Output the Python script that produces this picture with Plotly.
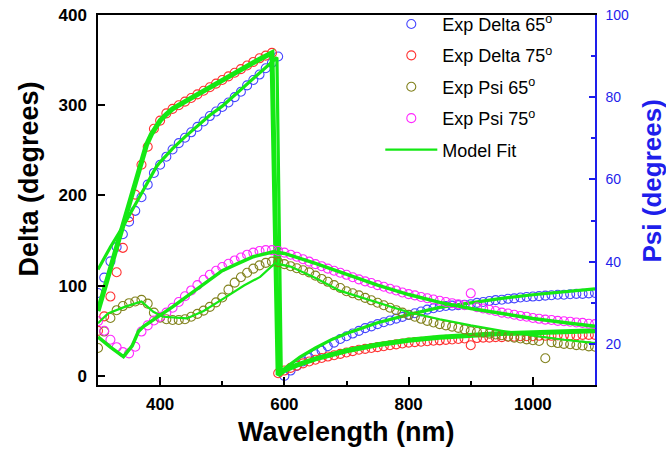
import plotly.graph_objects as go

# ---------------- data ----------------
wavelength = [300, 310, 320, 330, 340, 350, 360, 370, 380, 390,
              400, 410, 420, 430, 440, 450, 460, 470, 480, 490,
              500, 510, 520, 530, 540, 550, 560, 570, 580, 590,
              600, 610, 620, 630, 640, 650, 660, 670, 680, 690,
              700, 710, 720, 730, 740, 750, 760, 770, 780, 790,
              800, 810, 820, 830, 840, 850, 860, 870, 880, 890,
              900, 910, 920, 930, 940, 950, 960, 970, 980, 990,
              1000, 1010, 1020, 1030, 1040, 1050, 1060, 1070, 1080, 1090, 1100]

delta_65 = [92, 109, 127, 143, 157, 171, 183, 198, 212, 225,
            234, 243, 251, 258, 264, 270, 276, 282, 288, 293,
            298, 303, 309, 315, 322, 328, 334, 341, 347, 354,
            0, 6, 11, 16, 20, 24, 28, 33, 37, 41,
            44, 47, 50, 53, 55, 57.5, 59.5, 61.5, 63.5, 65.5,
            67.5, 69.5, 71.5, 73.5, 75, 76.5, 77.5, 78, 78.5, 79,
            79.5, 81, 82, 83, 84, 84.5, 85.5, 86, 87, 87.5,
            88, 88.5, 89, 89.5, 90, 90, 90.5, 91, 91, 91.5, 92]

delta_75 = [50, 66, 88, 115, 142, 176, 201, 234, 254, 274,
            283, 291, 296, 300, 304, 308, 312, 316, 320, 324,
            328, 332, 336, 340, 344, 348, 352, 355, 358, 3,
            6, 9, 11.5, 14, 16, 18, 20, 21.5, 23, 24.5,
            26, 27.5, 29, 30, 31, 32, 33, 34, 35, 36,
            37, 37.5, 38, 38.5, 39, 39.5, 40, 40.5, 41, 41.5,
            34, 42, 42.5, 42.5, 43, 43, 43.5, 43.5, 44, 44,
            44, 44.5, 44.5, 44.5, 45, 45, 45, 45, 45.5, 45.5, 45.5]

psi_65 = [19, 23, 26.3, 28.2, 29.2, 29.9, 30.3, 30.7, 29.8, 27.6,
          26.4, 26, 25.8, 25.8, 26, 26.6, 27.3, 28.1, 29, 30.1,
          31.3, 33.2, 34.9, 36.2, 37.3, 38.3, 39.1, 39.7, 40, 39.9,
          39.4, 38.9, 38.4, 37.9, 37.4, 36.6, 35.8, 35.1, 34.3, 33.6,
          32.8, 32.3, 31.8, 31.2, 30.6, 30, 29.4, 28.8, 28.2, 27.6,
          27.1, 26.6, 26.1, 25.6, 25.2, 24.8, 24.5, 24.2, 23.9, 23.5,
          23.1, 22.9, 22.7, 22.5, 22.3, 22.1, 21.8, 21.5, 21.3, 21.1,
          20.9, 20.7, 16.5, 20.4, 20.2, 20, 19.9, 19.7, 19.6, 19.4, 19.3]

psi_75 = [25.5, 23.2, 21, 19.2, 18, 17.7, 19.3, 23, 24.5, 25.7,
          26.6, 27.6, 28.8, 30.2, 31.6, 33, 34.3, 35.6, 36.8, 37.8,
          38.7, 39.5, 40.3, 41, 41.7, 42.2, 42.6, 42.8, 42.8, 42.6,
          42.2, 41.7, 41.2, 40.6, 40.0, 39.4, 38.9, 38.3, 37.8, 37.3,
          36.8, 36.2, 35.7, 35.2, 34.8, 34.3, 33.9, 33.4, 33.0, 32.5,
          32.1, 31.8, 31.4, 31.1, 30.8, 30.5, 30.2, 29.9, 29.6, 29.4,
          32.3, 28.9, 28.6, 28.3, 28.0, 27.6, 27.4, 27.1, 26.8, 26.6,
          26.3, 26.1, 25.9, 25.8, 25.6, 25.5, 25.4, 25.2, 25.1, 24.9, 24.8]

# model fits
fit_d75_wl = [300, 320, 340, 360, 378, 386, 394, 400, 410, 420, 440, 460, 480, 500,
              520, 540, 560, 580, 590, 600, 620, 650, 700, 750, 800, 850, 900, 950,
              1000, 1050, 1100]
fit_d75 = [72, 119, 166, 213, 256, 268, 278, 283, 290, 296, 304, 312, 320, 328,
           336, 344, 351, 358, 1, 6, 12, 19, 28, 34.5, 39.5, 43, 45.5, 47,
           48, 49, 50]

fit_d65_wl = [300, 320, 343, 360, 373, 385, 394, 400, 420, 440, 460, 480, 500, 520,
              540, 560, 580, 588, 595, 600, 625, 650, 675, 700, 750, 800, 850, 900,
              950, 1000, 1050, 1100]
fit_d65 = [118, 143, 169, 190, 207, 222, 232, 237, 252, 265, 277, 289, 299, 311,
           323, 336, 348, 353, 4, 8, 21, 31, 40, 47, 59, 68, 76, 81,
           86, 90, 93.5, 96.5]

fit_p75_wl = [300, 320, 341, 355, 365, 373, 420, 460, 500, 523, 550, 582, 600, 650,
              690, 750, 800, 850, 900, 950, 1000, 1050, 1100]
fit_p75 = [21.7, 19.2, 16.9, 19.5, 23.0, 24.2, 29.0, 33.4, 37.8, 39.4, 41.2, 42.4, 42.0, 39.6,
           37.4, 34.3, 32.0, 30.1, 28.6, 27.3, 26.2, 25.2, 24.3]

fit_p65_wl = [300, 316, 343, 370, 389, 405, 443, 470, 507, 535, 561, 585, 610, 650,
              690, 750, 800, 850, 900, 950, 1000, 1050, 1100]
fit_p65 = [25.0, 27.4, 29.0, 30.3, 27.8, 26.6, 26.2, 28.0, 31.5, 34.2, 36.3, 39.6, 38.8, 36.0,
           32.9, 30.0, 27.7, 26.0, 24.5, 23.2, 22.0, 21.0, 20.2]

# ---------------- styling ----------------
FONT = "Liberation Sans, Arial, Helvetica, sans-serif"
GREEN = "rgb(20,232,20)"
BLUE_AX = "rgb(30,30,235)"

fig = go.Figure()

exp_series = [
    ("Exp Delta 65<sup>o</sup>", delta_65, "y", "rgb(70,70,255)"),
    ("Exp Delta 75<sup>o</sup>", delta_75, "y", "rgb(255,50,50)"),
    ("Exp Psi 65<sup>o</sup>", psi_65, "y2", "rgb(130,130,30)"),
    ("Exp Psi 75<sup>o</sup>", psi_75, "y2", "rgb(255,40,255)"),
]
for i, (name, vals, yax, col) in enumerate(exp_series):
    fig.add_trace(go.Scatter(
        x=wavelength, y=vals, yaxis=yax, mode="markers", name=name,
        legendgroup=f"g{i}", legendrank=i + 1,
        marker=dict(symbol="circle-open", size=9, color=col, line=dict(width=1.1, color=col)),
    ))

fits = [
    (fit_p65_wl, fit_p65, "y2", 2.2, True),
    (fit_p75_wl, fit_p75, "y2", 3.5, False),
    (fit_d65_wl, fit_d65, "y", 3.2, False),
    (fit_d75_wl, fit_d75, "y", 5, False),
]
for wl, vals, yax, w, show in fits:
    fig.add_trace(go.Scatter(
        x=wl, y=vals, yaxis=yax, mode="lines", name="Model Fit",
        legendgroup="fit", legendrank=10, showlegend=show,
        line=dict(color=GREEN, width=w),
    ))

fig.update_layout(
    width=666, height=452,
    margin=dict(l=98, r=71, t=15, b=67, autoexpand=False),
    paper_bgcolor="white", plot_bgcolor="white",
    font=dict(family=FONT, color="black"),
    showlegend=True,
    legend=dict(
        x=0.568, y=1.025, xanchor="left", yanchor="top",
        bgcolor="rgba(0,0,0,0)", borderwidth=0,
        font=dict(size=18, family=FONT, color="black"),
        itemwidth=52, tracegroupgap=5,
    ),
    xaxis=dict(
        range=[300, 1100], tickvals=[400, 600, 800, 1000],
        ticks="inside", ticklen=8, tickwidth=1.5, tickcolor="black",
        minor=dict(dtick=100, ticks="inside", ticklen=4, tickwidth=1.5, tickcolor="black"),
        showline=True, linecolor="black", linewidth=1.5, mirror=True,
        showgrid=False, zeroline=False, automargin=False,
        tickfont=dict(size=17, weight="bold", family=FONT, color="black"),
        ticklabelstandoff=3,
    ),
    yaxis=dict(
        range=[-10, 400], dtick=100, tick0=0,
        ticks="inside", ticklen=7, tickwidth=1.5, tickcolor="black",
        showline=True, linecolor="black", linewidth=1.5,
        showgrid=False, zeroline=False, automargin=False,
        tickfont=dict(size=17, weight="bold", family=FONT, color="black"),
        ticklabelstandoff=6,
    ),
    yaxis2=dict(
        range=[10, 100], dtick=20, tick0=0, overlaying="y", side="right",
        ticks="inside", ticklen=6, tickwidth=1.5, tickcolor=BLUE_AX,
        minor=dict(dtick=10, tick0=0, ticks="inside", ticklen=4, tickwidth=1.5, tickcolor=BLUE_AX),
        showline=True, linecolor=BLUE_AX, linewidth=1.5,
        showgrid=False, zeroline=False, automargin=False,
        tickfont=dict(size=14, family=FONT, color=BLUE_AX),
        ticklabelstandoff=6,
    ),
    annotations=[
        dict(text="Delta (degrees)", xref="paper", yref="paper",
             x=(28.5 - 98) / 497, y=(385 - 179) / 370, xanchor="center", yanchor="middle",
             textangle=-90, showarrow=False,
             font=dict(size=27, weight="bold", family=FONT, color="black")),
        dict(text="Psi (degrees)", xref="paper", yref="paper",
             x=(651.5 - 98) / 497, y=(385 - 181) / 370, xanchor="center", yanchor="middle",
             textangle=-90, showarrow=False,
             font=dict(size=26, weight="bold", family=FONT, color=BLUE_AX)),
        dict(text="Wavelength (nm)", xref="paper", yref="paper",
             x=0.5, y=(385 - 432) / 370, xanchor="center", yanchor="middle",
             showarrow=False,
             font=dict(size=27, weight="bold", family=FONT, color="black")),
    ],
)

fig.write_html("out.html", config={"displayModeBar": False},
               post_script="document.body.style.margin='0px';")
